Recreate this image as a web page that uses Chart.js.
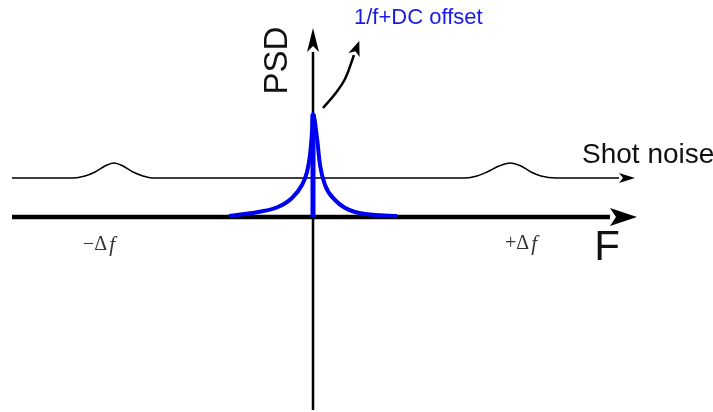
<!DOCTYPE html>
<html>
<head>
<meta charset="utf-8">
<script src="https://cdn.jsdelivr.net/npm/chart.js@4/dist/chart.umd.min.js"></script>
<style>
  html, body { margin: 0; padding: 0; background: #ffffff; }
  #wrap { width: 713px; height: 412px; }
</style>
</head>
<body>
<div id="wrap"><canvas id="psd" width="713" height="412"></canvas></div>
<script>
// Frequency axis is in units of the offset Δf; PSD in arbitrary units.

// Shot-noise floor with the two sideband bumps at ±Δf
const shotFreq = [-1.505, -1.2, -1.14, -1.09, -1.04, -0.995, -0.95, -0.9, -0.85, -0.805,
                  0.76, 0.82, 0.87, 0.93, 0.985, 1.04, 1.09, 1.14, 1.215, 1.53];
const shotPsd  = [0.39, 0.39, 0.41, 0.45, 0.51, 0.54, 0.51, 0.45, 0.41, 0.39,
                  0.39, 0.41, 0.45, 0.51, 0.54, 0.51, 0.45, 0.41, 0.39, 0.39];

// 1/f + DC offset peak around zero frequency
const flickerFreq = [-0.42, -0.275, -0.175, -0.105, -0.055, -0.03, -0.015, -0.005, 0,
                     0.02, 0.035, 0.06, 0.11, 0.21, 0.42];
const flickerPsd  = [0.01, 0.05, 0.10, 0.19, 0.32, 0.45, 0.62, 0.85, 1.03,
                     0.79, 0.52, 0.32, 0.17, 0.05, 0.01];
const dcLevel = 1.03;

// Axes of the sketch
const freqAxis = { from: -1.505, to: 1.485 };
const psdAxis  = { from: -1.93, to: 1.65 };

// Curved pointer towards the "1/f+DC offset" label
const pointerFreq = [0.05, 0.11, 0.16, 0.205];
const pointerPsd  = [1.09, 1.23, 1.38, 1.62];

const zip = (xs, ys) => xs.map((x, i) => ({ x, y: ys[i] }));

const BLUE = '#0000f0';
const INK = '#000000';

// Arrowheads ("stealth" style) at the end of datasets that ask for one
const arrowHeads = {
  id: 'arrowHeads',
  afterDatasetsDraw(chart) {
    const ctx = chart.ctx;
    chart.data.datasets.forEach((ds, i) => {
      if (!ds.arrowHead) return;
      const pts = chart.getDatasetMeta(i).data;
      const a = pts[pts.length - 2], b = pts[pts.length - 1];
      let dx = b.x - a.x, dy = b.y - a.y;
      const L = Math.hypot(dx, dy); dx /= L; dy /= L;
      const { len, half, notch } = ds.arrowHead;
      const nx = -dy, ny = dx;
      const tip = { x: b.x + dx * len, y: b.y + dy * len };
      ctx.save();
      ctx.fillStyle = ds.borderColor;
      ctx.beginPath();
      ctx.moveTo(tip.x, tip.y);
      ctx.lineTo(b.x + nx * half, b.y + ny * half);
      ctx.lineTo(b.x + dx * notch, b.y + dy * notch);
      ctx.lineTo(b.x - nx * half, b.y - ny * half);
      ctx.closePath();
      ctx.fill();
      ctx.restore();
    });
  }
};

// Text annotations, placed in data coordinates
const labels = [
  { text: 'PSD', x: -0.173, y: 1.565, font: '33px "Liberation Sans", Arial, sans-serif', color: '#111', rotate: -Math.PI / 2, align: 'center' },
  { text: '1/f+DC offset', x: 0.205, y: 1.99, font: '22px "Liberation Sans", Arial, sans-serif', color: '#1a1ae6', align: 'left' },
  { text: 'Shot noise', x: 1.345, y: 0.62, font: '28px "Liberation Sans", Arial, sans-serif', color: '#111', align: 'left' },
  { text: 'F', x: 1.47, y: -0.31, font: '42px "Liberation Sans", Arial, sans-serif', color: '#111', align: 'center' }
];
const deltaLabels = [
  { sign: '\u2212', x: -1.07, y: -0.28 },
  { sign: '+', x: 1.04, y: -0.27 }
];

const annotations = {
  id: 'annotations',
  afterDraw(chart) {
    const ctx = chart.ctx, xs = chart.scales.x, ys = chart.scales.y;
    ctx.save();
    ctx.textBaseline = 'middle';
    labels.forEach(l => {
      const px = xs.getPixelForValue(l.x), py = ys.getPixelForValue(l.y);
      ctx.save();
      ctx.font = l.font;
      ctx.fillStyle = l.color;
      ctx.textAlign = l.align;
      ctx.translate(px, py);
      if (l.rotate) ctx.rotate(l.rotate);
      ctx.fillText(l.text, 0, 0);
      ctx.restore();
    });
    // ±Δf markers: upright sign and delta, italic f
    const upright = '20px "Liberation Serif", "DejaVu Serif", serif';
    const italic = 'italic 21px "Liberation Serif", "DejaVu Serif", serif';
    deltaLabels.forEach(d => {
      const head = d.sign + '\u0394';
      ctx.font = upright; const w1 = ctx.measureText(head).width;
      ctx.font = italic; const w2 = ctx.measureText('f').width;
      const cx = xs.getPixelForValue(d.x), cy = ys.getPixelForValue(d.y);
      let left = cx - (w1 + w2 + 2) / 2;
      ctx.fillStyle = '#333';
      ctx.textAlign = 'left';
      ctx.font = upright; ctx.fillText(head, left, cy);
      ctx.font = italic; ctx.fillText('f', left + w1 + 2, cy);
    });
    ctx.restore();
  }
};

new Chart(document.getElementById('psd'), {
  type: 'line',
  data: {
    datasets: [
      { // DC offset spike
        data: [{ x: 0, y: 0 }, { x: 0, y: dcLevel }],
        borderColor: BLUE, borderWidth: 5, order: 0
      },
      { // 1/f flicker noise
        data: zip(flickerFreq, flickerPsd),
        borderColor: BLUE, borderWidth: 4, cubicInterpolationMode: 'monotone', order: 1
      },
      { // frequency axis
        data: [{ x: freqAxis.from, y: 0 }, { x: freqAxis.to, y: 0 }],
        borderColor: INK, borderWidth: 4.5, order: 2,
        arrowHead: { len: 27, half: 9, notch: 6 }
      },
      { // shot-noise floor
        data: zip(shotFreq, shotPsd),
        borderColor: INK, borderWidth: 1.5, cubicInterpolationMode: 'monotone', order: 3,
        arrowHead: { len: 16, half: 5, notch: 4 }
      },
      { // PSD axis
        data: [{ x: 0, y: psdAxis.from }, { x: 0, y: psdAxis.to }],
        borderColor: INK, borderWidth: 2.5, order: 4,
        arrowHead: { len: 24, half: 6, notch: 6 }
      },
      { // pointer to the label
        data: zip(pointerFreq, pointerPsd),
        borderColor: INK, borderWidth: 2.5, tension: 0.4, order: 5,
        arrowHead: { len: 15, half: 6, notch: 4 }
      }
    ]
  },
  options: {
    responsive: false,
    animation: false,
    devicePixelRatio: 1,
    layout: { padding: 0 },
    elements: { point: { radius: 0, hoverRadius: 0 }, line: { fill: false, borderCapStyle: 'butt' } },
    plugins: { legend: { display: false }, tooltip: { enabled: false } },
    scales: {
      x: { type: 'linear', min: -1.565, max: 2.0, display: false },
      y: { type: 'linear', min: -1.95, max: 2.17, display: false }
    }
  },
  plugins: [arrowHeads, annotations]
});
</script>
</body>
</html>
